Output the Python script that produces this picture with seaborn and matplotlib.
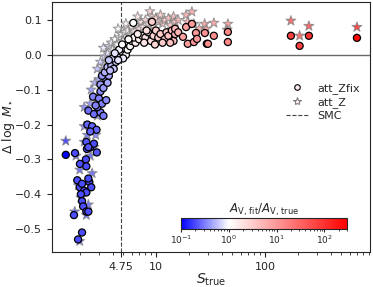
import numpy as np
import pandas as pd
import matplotlib
matplotlib.use('Agg')
import matplotlib.pyplot as plt
import matplotlib.colors as mcolors
import matplotlib.ticker as mticker
from matplotlib.lines import Line2D
import seaborn as sns

sns.set_style('ticks')
plt.rcParams['font.family'] = ['DejaVu Sans']
plt.rcParams['mathtext.fontset'] = 'dejavusans'

# att_Zfix (circles): S_true, delta log M*, A_V ratio
zfix_s = [1.49, 1.81, 2.01, 2.28, 2.33, 2.5, 2.7, 2.87,
          1.9, 2.0, 2.1, 2.2, 2.3, 2.45, 2.55, 2.05, 2.4,
          2.1, 2.15, 2.3, 2.4, 1.77, 2.1, 1.93, 2.3,
          2.3, 2.4, 2.35, 2.6, 2.85, 2.5,
          2.4, 2.7, 3.1, 3.3, 2.9,
          2.65, 3.0, 3.2, 2.8, 3.5, 3.1,
          3.1, 3.3, 3.5, 3.7, 3.2, 3.6, 3.4,
          3.6, 3.9, 4.1, 4.3, 4.0, 3.8, 3.7,
          4.4, 4.8, 5.1, 4.6, 5.3, 5.0, 4.5, 4.2, 5.5, 4.9,
          5.8, 6.0, 6.5, 6.3, 7.0, 7.5, 6.8, 8.0, 8.5, 9.0, 9.5, 10.0, 10.5,
          11.0, 12.0, 12.5, 13.0, 14.0, 14.5, 15.0, 13.5,
          5.6, 7.8, 11.5, 9.8, 8.2, 9.2, 6.2, 15.0, 16.0,
          17.7, 18.9, 21.4, 19.6, 22.3, 23.3, 23.8, 28.1, 29.3, 30.0, 34.0, 45.7, 45.7,
          173, 208, 253, 698]
zfix_dm = [-0.287, -0.282, -0.313, -0.30, -0.27, -0.265, -0.255, -0.28,
           -0.36, -0.38, -0.37, -0.39, -0.395, -0.365, -0.38, -0.40, -0.355,
           -0.42, -0.435, -0.45, -0.45, -0.46, -0.51, -0.53, -0.32,
           -0.25, -0.265, -0.20, -0.205, -0.215, -0.22,
           -0.16, -0.17, -0.165, -0.175, -0.15,
           -0.12, -0.125, -0.14, -0.145, -0.13, -0.105,
           -0.085, -0.095, -0.07, -0.06, -0.06, -0.08, -0.05,
           -0.035, -0.03, -0.04, -0.02, -0.01, -0.045, -0.015,
           0.0, 0.01, 0.02, 0.015, 0.0, -0.01, -0.015, 0.005, 0.015, 0.03,
           0.025, 0.04, 0.035, 0.05, 0.045, 0.055, 0.06, 0.05, 0.065, 0.04, 0.055, 0.07, 0.05,
           0.06, 0.045, 0.065, 0.055, 0.07, 0.04, 0.06, 0.035,
           0.045, 0.035, 0.035, 0.03, 0.07, 0.095, 0.092, 0.075, 0.065,
           0.052, 0.08, 0.089, 0.032, 0.037, 0.063, 0.046, 0.063, 0.032, 0.032, 0.055, 0.066, 0.037,
           0.055, 0.026, 0.055, 0.049]
zfix_av = [0.1, 0.2, 0.2, 0.2, 0.2, 0.2, 0.2, 0.22,
           0.2, 0.2, 0.2, 0.2, 0.2, 0.2, 0.2, 0.2, 0.2,
           0.2, 0.2, 0.2, 0.2, 0.2, 0.2, 0.2, 0.2,
           0.22, 0.22, 0.25, 0.25, 0.25, 0.25,
           0.28, 0.28, 0.3, 0.3, 0.3,
           0.32, 0.32, 0.32, 0.32, 0.35, 0.35,
           0.4, 0.4, 0.45, 0.45, 0.4, 0.45, 0.5,
           0.55, 0.55, 0.6, 0.65, 0.65, 0.55, 0.6,
           0.8, 0.9, 0.95, 0.9, 0.95, 0.85, 0.8, 0.8, 1.0, 1.0,
           1.1, 1.2, 1.4, 1.3, 1.5, 1.7, 1.5, 2.0, 2.2, 2.0, 2.5, 3.0, 3.0,
           3.2, 3.5, 3.5, 4.0, 4.0, 4.5, 4.5, 4.0,
           1.1, 1.8, 3.2, 2.5, 2.0, 3.0, 1.0, 4.5, 5.0,
           8, 8, 9, 9, 10, 10, 10, 11, 12, 12, 12, 14, 14,
           70, 70, 90, 250]

# att_Z (stars)
z_s = [1.49, 1.85, 2.0, 2.5, 2.6, 1.95, 2.05, 2.4, 2.3, 1.8, 2.0, 2.4, 2.7,
       2.2, 2.35, 2.2, 2.8, 2.2, 2.9, 2.5, 2.55, 2.9, 2.75, 3.0, 3.2, 2.9, 3.3,
       3.1, 3.4, 3.6, 3.3, 3.7, 3.9, 4.0, 4.2, 4.4, 4.6, 4.8, 5.0, 5.2, 5.5,
       5.8, 6.0, 6.3, 6.6, 7.0, 7.3, 7.6, 8.0, 8.5, 8.8, 9.2, 9.5, 10.0, 10.5,
       11.0, 11.5, 12.0, 13.0, 13.5, 14.5, 15.0, 16.0, 5.3, 6.8, 4.5,
       18.9, 21.4, 22.3, 28.0, 34.0, 45.7, 45.0, 25.0, 29.0, 19.5,
       173, 208, 253, 698]
z_dm = [-0.247, -0.29, -0.33, -0.29, -0.34, -0.375, -0.41, -0.43, -0.46, -0.45, -0.535, -0.27, -0.265,
        -0.25, -0.23, -0.205, -0.23, -0.15, -0.175, -0.14, -0.10, -0.12, -0.08, -0.07, -0.05, -0.04, -0.03,
        -0.02, -0.005, 0.005, 0.02, 0.025, 0.035, 0.015, 0.045, 0.03, 0.05, 0.06, 0.04, 0.065, 0.07,
        0.055, 0.08, 0.07, 0.085, 0.075, 0.095, 0.08, 0.10, 0.09, 0.125, 0.11, 0.085, 0.105, 0.095,
        0.115, 0.09, 0.10, 0.105, 0.085, 0.11, 0.095, 0.10, 0.09, 0.11, 0.075,
        0.115, 0.124, 0.089, 0.089, 0.092, 0.089, 0.072, 0.075, 0.075, 0.095,
        0.098, 0.055, 0.083, 0.08]
z_av = [0.12, 0.2, 0.2, 0.2, 0.2, 0.2, 0.2, 0.2, 0.2, 0.2, 0.2, 0.2, 0.22,
        0.22, 0.22, 0.25, 0.25, 0.28, 0.3, 0.3, 0.32, 0.35, 0.4, 0.4, 0.45, 0.5, 0.55,
        0.6, 0.7, 0.7, 0.8, 0.8, 0.9, 0.9, 1.0, 1.0, 1.1, 1.1, 1.2, 1.3, 1.4,
        1.5, 1.6, 1.8, 1.8, 2.0, 2.2, 2.2, 2.5, 2.5, 3.0, 3.0, 3.0, 3.5, 3.5,
        4.0, 4.0, 4.0, 4.5, 4.5, 5.0, 5.0, 5.0, 1.3, 2.0, 1.1,
        8, 9, 10, 11, 12, 14, 14, 10, 12, 8,
        70, 70, 90, 250]

smc_s = 4.75
xtick_vals = [4.75, 10, 100]
xtick_labels = ['4.75', '10', '100']

df_zfix = pd.DataFrame({'S': zfix_s, 'dm': zfix_dm, 'av': zfix_av})
df_z = pd.DataFrame({'S': z_s, 'dm': z_dm, 'av': z_av})

# blue-white-red, white at ratio = 1
vmin, vmax = 0.1, 300
mid = (0 - np.log10(vmin)) / (np.log10(vmax) - np.log10(vmin))
cmap = mcolors.LinearSegmentedColormap.from_list(
    'bwr_log', [(0, 'blue'), (mid, 'white'), (1, 'red')])
norm = mcolors.LogNorm(vmin=vmin, vmax=vmax)

fig = plt.figure(figsize=(3.73, 2.87), dpi=100)
ax = fig.add_axes([0.139, 0.122, 0.853, 0.871])

ax.axhline(0, color='dimgray', lw=1, zorder=1)
sns.scatterplot(data=df_z, x='S', y='dm', color=cmap(norm(df_z.av)), marker='*',
                s=55, edgecolor='gray', linewidth=0.8, alpha=0.75, ax=ax, zorder=2)
sns.scatterplot(data=df_zfix, x='S', y='dm', color=cmap(norm(df_zfix.av)), marker='o',
                s=26, edgecolor='black', linewidth=0.9, ax=ax, zorder=3)
ax.axvline(smc_s, color='#444444', ls='--', lw=0.8, zorder=1)

ax.set_xscale('log')
ax.set_xlim(1.11, 920)
ax.set_ylim(-0.566, 0.152)
ax.xaxis.set_major_locator(mticker.FixedLocator(xtick_vals))
ax.xaxis.set_major_formatter(mticker.FixedFormatter(xtick_labels))
ax.xaxis.set_minor_formatter(mticker.NullFormatter())
ax.set_yticks([0.1, 0.0, -0.1, -0.2, -0.3, -0.4, -0.5])
ax.tick_params(labelsize=8)
ax.set_xlabel(r'$S_{\rm true}$', fontsize=10, labelpad=0)
ax.set_ylabel(r'$\Delta\ \log\ M_{\star}$', fontsize=9)
ax.yaxis.set_label_coords(-0.108, 0.5)

handles = [
    Line2D([], [], ls='none', marker='o', ms=4, mfc=cmap(norm(1.5)), mec='black', mew=0.8),
    Line2D([], [], ls='none', marker='*', ms=6, mfc=cmap(norm(1.5)), mec='gray', mew=0.8),
    Line2D([], [], color='#444444', ls='--', lw=0.8),
]
ax.legend(handles, ['att_Zfix', 'att_Z', 'SMC'], loc='center right',
          bbox_to_anchor=(1.0, 0.6), frameon=False, fontsize=8,
          handlelength=2.0, handletextpad=0.8, labelspacing=0.3)

# colour bar inset
cax = ax.inset_axes([0.406, 0.092, 0.522, 0.044])
sm = plt.cm.ScalarMappable(norm=norm, cmap=cmap)
cb = fig.colorbar(sm, cax=cax, orientation='horizontal')
cb.ax.tick_params(labelsize=6.5, length=2, pad=1)
cb.ax.tick_params(which='minor', length=1.2)
cb.ax.xaxis.set_minor_formatter(mticker.NullFormatter())
cax.set_title(r'$A_{\rm V,\,fit}/A_{\rm V,\,true}$', fontsize=8.5, pad=3)

fig.savefig('out.png', dpi=100)
